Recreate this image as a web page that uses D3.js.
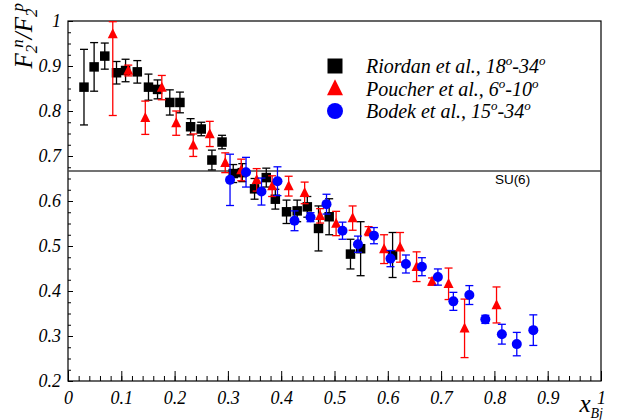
<!DOCTYPE html>
<html><head><meta charset="utf-8">
<script src="https://cdn.jsdelivr.net/npm/d3@7"></script>
<style>body{margin:0;background:#fff}svg{display:block}</style>
</head><body>
<svg id="c" width="625" height="420"></svg>
<script>
// Riordan et al., 18-34 deg (black squares)
const riordanX = [0.030,0.049,0.069,0.091,0.108,0.130,0.151,0.168,0.191,0.210,0.230,0.250,0.270,0.289,0.310,0.327,0.350,0.372,0.389,0.410,0.430,0.449,0.470,0.490,0.530,0.549,0.609];
const riordanY = [0.853,0.898,0.922,0.885,0.890,0.887,0.853,0.848,0.819,0.819,0.765,0.760,0.691,0.731,0.661,0.663,0.627,0.652,0.604,0.576,0.578,0.587,0.539,0.565,0.482,0.494,0.480];
const riordanErr = [0.084,0.054,0.029,0.025,0.025,0.025,0.029,0.021,0.028,0.023,0.018,0.015,0.022,0.015,0.020,0.020,0.023,0.021,0.022,0.026,0.024,0.023,0.050,0.040,0.033,0.060,0.050];
// Poucher et al., 6-10 deg (red triangles)
const poucherX = [0.084,0.113,0.145,0.176,0.203,0.235,0.266,0.295,0.325,0.354,0.383,0.414,0.444,0.473,0.503,0.534,0.564,0.593,0.623,0.654,0.683,0.714,0.744,0.804];
const poucherY = [0.971,0.890,0.785,0.852,0.773,0.724,0.749,0.685,0.669,0.647,0.633,0.633,0.618,0.567,0.550,0.562,0.533,0.493,0.497,0.454,0.421,0.416,0.317,0.369];
const poucherErr = [0.181,0.012,0.037,0.027,0.027,0.025,0.028,0.022,0.024,0.025,0.023,0.022,0.024,0.016,0.027,0.027,0.010,0.032,0.033,0.033,0.008,0.035,0.065,0.040];
// Bodek et al., 15-34 deg (blue circles)
const bodekX = [0.304,0.334,0.363,0.393,0.425,0.455,0.485,0.515,0.544,0.574,0.605,0.634,0.664,0.694,0.723,0.753,0.783,0.814,0.842,0.873];
const bodekY = [0.647,0.664,0.621,0.644,0.556,0.564,0.593,0.534,0.504,0.523,0.472,0.460,0.454,0.431,0.377,0.391,0.337,0.304,0.282,0.313];
const bodekErr = [0.057,0.033,0.030,0.032,0.022,0.010,0.022,0.019,0.018,0.018,0.018,0.020,0.020,0.018,0.020,0.021,0.009,0.022,0.026,0.034];

const su6Value = 2/3;
const xTicks = [0,0.1,0.2,0.3,0.4,0.5,0.6,0.7,0.8,0.9,1];
const yTicks = [0.2,0.3,0.4,0.5,0.6,0.7,0.8,0.9,1];
const xTickLabels = ["0","0.1","0.2","0.3","0.4","0.5","0.6","0.7","0.8","0.9","1"];
const yTickLabels = ["0.2","0.3","0.4","0.5","0.6","0.7","0.8","0.9","1"];

const svg = d3.select("#c");
const L = 68, R = 601, T = 21, B = 381;
const x = d3.scaleLinear().domain([0,1]).range([L,R]);
const y = d3.scaleLinear().domain([0.2,1]).range([B,T]);
const serif = "Liberation Serif, Tinos, Times, DejaVu Serif, Noto Serif, serif";

svg.append("defs").append("clipPath").attr("id","clip")
  .append("rect").attr("x",L).attr("y",T).attr("width",R-L).attr("height",B-T);

// frame
svg.append("rect").attr("x",L).attr("y",T).attr("width",R-L).attr("height",B-T)
  .attr("fill","none").attr("stroke","#000").attr("stroke-width",1.2);

// x axis major/minor
const xMinor = d3.range(0,1.0001,0.02);
svg.append("g").attr("transform",`translate(0,${B})`)
  .call(d3.axisBottom(x).tickValues(xMinor).tickSizeInner(-5).tickSizeOuter(0).tickFormat(""))
  .call(g=>{g.select(".domain").remove(); g.selectAll("line").attr("stroke","#000");});
svg.append("g").attr("transform",`translate(0,${B})`)
  .call(d3.axisBottom(x).tickValues(xTicks).tickSizeInner(-10).tickSizeOuter(0).tickPadding(10)
    .tickFormat((d,i)=>xTickLabels[i]))
  .call(g=>{g.attr("font-family",null); g.select(".domain").remove(); g.selectAll("line").attr("stroke","#000");
    g.selectAll("text").style("font-family",serif).style("font-style","italic").style("font-size","18px").attr("fill","#000");});

// y axis
const yMinor = d3.range(0.2,1.0001,0.025);
svg.append("g").attr("transform",`translate(${L},0)`)
  .call(d3.axisLeft(y).tickValues(yMinor).tickSizeInner(-3).tickSizeOuter(0).tickFormat(""))
  .call(g=>{g.select(".domain").remove(); g.selectAll("line").attr("stroke","#000");});
svg.append("g").attr("transform",`translate(${L},0)`)
  .call(d3.axisLeft(y).tickValues(yTicks).tickSizeInner(-5).tickSizeOuter(0).tickPadding(7)
    .tickFormat((d,i)=>yTickLabels[i]))
  .call(g=>{g.attr("font-family",null); g.select(".domain").remove(); g.selectAll("line").attr("stroke","#000");
    g.selectAll("text").style("font-family",serif).style("font-style","italic").style("font-size","18px").attr("fill","#000");});

// SU(6) line
svg.append("line").attr("x1",x(0)).attr("x2",x(1)).attr("y1",y(su6Value)).attr("y2",y(su6Value))
  .attr("stroke","#444").attr("stroke-width",1.3);
svg.append("text").attr("x",x(0.834)).attr("y",y(su6Value)+13).attr("text-anchor","middle")
  .style("font-family","Liberation Sans, Arial, sans-serif").style("font-size","13.5px").attr("fill","#000").text("SU(6)");

// markers
const sq = s => `M${-s/2},${-s/2}h${s}v${s}h${-s}Z`;
const tri = s => `M0,${-s*0.58}L${s*0.5},${s*0.42}L${-s*0.5},${s*0.42}Z`;
const circ = s => `M${s/2},0A${s/2},${s/2} 0 1,1 ${-s/2},0A${s/2},${s/2} 0 1,1 ${s/2},0Z`;

const series = [
  {xs:riordanX, ys:riordanY, es:riordanErr, color:"#000", shape:sq, size:9.5},
  {xs:poucherX, ys:poucherY, es:poucherErr, color:"#ff0000", shape:tri, size:10},
  {xs:bodekX, ys:bodekY, es:bodekErr, color:"#0000ff", shape:circ, size:10}
];
const plot = svg.append("g").attr("clip-path","url(#clip)");
series.forEach(s=>{
  const data = s.xs.map((v,i)=>({x:v, y:s.ys[i], e:s.es[i]}));
  const g = plot.append("g");
  const eg = g.selectAll("g.err").data(data).join("g").attr("stroke",s.color).attr("stroke-width",1.3);
  eg.append("line").attr("x1",d=>x(d.x)).attr("x2",d=>x(d.x))
    .attr("y1",d=>y(Math.min(d.y+d.e,1))).attr("y2",d=>y(Math.max(d.y-d.e,0.2)));
  eg.append("line").attr("x1",d=>x(d.x)-4).attr("x2",d=>x(d.x)+4)
    .attr("y1",d=>y(Math.min(d.y+d.e,1))+(d.y+d.e>1?0.7:0)).attr("y2",d=>y(Math.min(d.y+d.e,1))+(d.y+d.e>1?0.7:0));
  eg.append("line").attr("x1",d=>x(d.x)-4).attr("x2",d=>x(d.x)+4)
    .attr("y1",d=>y(d.y-d.e)).attr("y2",d=>y(d.y-d.e));
  g.selectAll("path.m").data(data).join("path").attr("class","m")
    .attr("transform",d=>`translate(${x(d.x)},${y(d.y)})`)
    .attr("d",s.shape(s.size)).attr("fill",s.color);
});

// legend
const legend = [
  {label:"Riordan et al., 18", a:"-34", shape:sq, size:15, color:"#000"},
  {label:"Poucher et al., 6", a:"-10", shape:tri, size:16, color:"#ff0000"},
  {label:"Bodek et al., 15", a:"-34", shape:circ, size:16, color:"#0000ff"}
];
const lg = svg.append("g");
legend.forEach((d,i)=>{
  const cy = 66 + i*22.5;
  lg.append("path").attr("transform",`translate(335,${cy})`).attr("d",d.shape(d.size)).attr("fill",d.color);
  const t = lg.append("text").attr("x",366).attr("y",cy+7).style("font-family",serif)
    .style("font-style","italic").style("font-size","20px").attr("fill","#000");
  t.append("tspan").text(d.label);
  t.append("tspan").style("font-size","13px").attr("dy",-8).text("o");
  t.append("tspan").attr("dy",8).text(d.a);
  t.append("tspan").style("font-size","13px").attr("dy",-8).text("o");
});

// y title
const yt = svg.append("text").attr("transform","translate(32,3) rotate(-90)").attr("text-anchor","end")
  .style("font-family",serif).style("font-style","italic").style("font-size","25px").attr("fill","#000");
yt.append("tspan").text("F");
yt.append("tspan").style("font-size","17px").attr("dy",5).text("2");
yt.append("tspan").style("font-size","17px").attr("dy",-14).attr("dx",-3).text("n");
yt.append("tspan").attr("dy",9).text("/F");
yt.append("tspan").style("font-size","17px").attr("dy",5).text("2");
yt.append("tspan").style("font-size","17px").attr("dy",-14).attr("dx",-3).text("p");

// x title
const xt = svg.append("text").attr("x",603).attr("y",412).attr("text-anchor","end")
  .style("font-family",serif).style("font-style","italic").style("font-size","25px").attr("fill","#000");
xt.append("tspan").text("x");
xt.append("tspan").style("font-size","14px").attr("dy",6).text("Bj");
</script>
</body></html>
